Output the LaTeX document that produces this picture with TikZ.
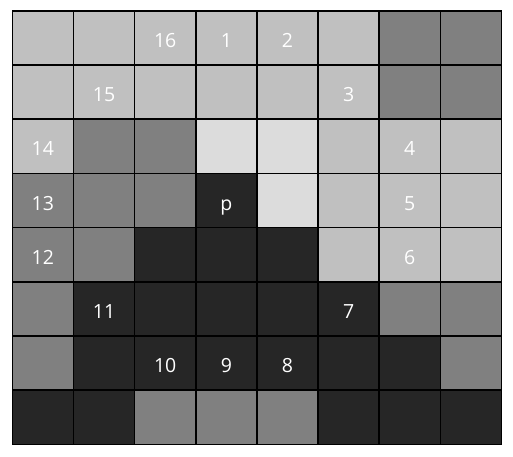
\documentclass[tikz,border=0pt]{standalone}
\usepackage{fontspec}
\setmainfont{Open Sans}
\definecolor{cL}{RGB}{192,192,192}
\definecolor{cM}{RGB}{128,128,128}
\definecolor{cD}{RGB}{38,38,38}
\definecolor{cW}{RGB}{220,220,220}
\begin{document}
\begin{tikzpicture}[x=1pt,y=-1pt,
  cell/.style={draw=black,line width=1.6pt,minimum width=61.15pt,minimum height=54.2pt,inner sep=0pt,anchor=north west,text=white,text height=13.9pt,text depth=0pt,font=\fontsize{19.5}{22}\selectfont}]
\useasboundingbox (0,0) rectangle (513,456);
\fill[white] (0,0) rectangle (513,456);
\foreach \row [count=\r from 0] in {
  {L/,L/,L/16,L/1,L/2,L/,M/,M/},
  {L/,L/15,L/,L/,L/,L/3,M/,M/},
  {L/14,M/,M/,W/,W/,L/,L/4,L/},
  {M/13,M/,M/,D/p,W/,L/,L/5,L/},
  {M/12,M/,D/,D/,D/,L/,L/6,L/},
  {M/,D/11,D/,D/,D/,D/7,M/,M/},
  {M/,D/,D/10,D/9,D/8,D/,D/,M/},
  {D/,D/,M/,M/,M/,D/,D/,D/}}
{
  \foreach \col/\lab [count=\c from 0] in \row {
    \node[cell,fill=c\col] (c-\r-\c) at ({11.5+\c*61.15},{10+\r*54.2}) {\raisebox{-2.6pt}{\lab}};
  }
}
\end{tikzpicture}
\end{document}
